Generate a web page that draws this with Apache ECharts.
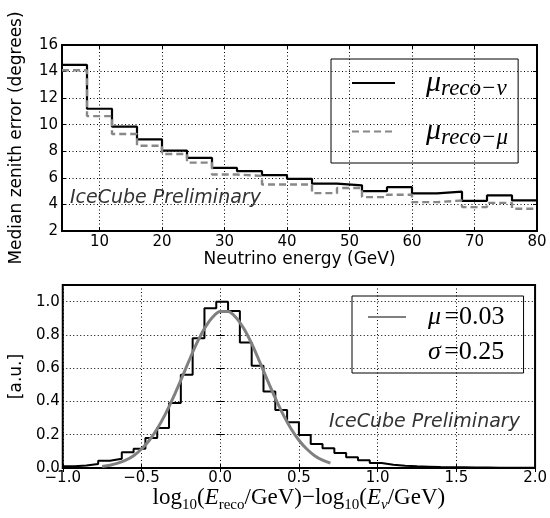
<!DOCTYPE html>
<html>
<head>
<meta charset="utf-8">
<script src="https://cdn.jsdelivr.net/npm/echarts@6/dist/echarts.min.js"></script>
<style>
  html, body { margin: 0; padding: 0; background: #fff; }
  #chart { width: 550px; height: 518px; }
</style>
</head>
<body>
<div id="chart"></div>
<script>
// top panel: median zenith error in 4 GeV energy bins
const energyEdges = [4, 8, 12, 16, 20, 24, 28, 32, 36, 40, 44, 48, 52, 56, 60, 64, 68, 72, 76, 80];
const zenithRecoNu = [14.5, 11.2, 9.85, 8.9, 8.05, 7.5, 6.75, 6.5, 6.2, 5.93, 5.57, 5.44, 5.0, 5.3, 4.83, 4.96, 4.27, 4.68, 4.3];
const zenithRecoMu = [14.1, 10.65, 9.3, 8.42, 7.8, 7.15, 6.25, 6.15, 5.5, 5.5, 4.85, 5.24, 4.55, 4.73, 4.17, 4.3, 3.8, 4.12, 3.67];
const energyTicks = [10, 20, 30, 40, 50, 60, 70, 80];

// bottom panel: energy resolution histogram (40 bins from -1 to 2)
const resEdges = [-1, -0.925, -0.85, -0.775, -0.7, -0.625, -0.55, -0.475, -0.4, -0.325,
  -0.25, -0.175, -0.1, -0.025, 0.05, 0.125, 0.2, 0.275, 0.35, 0.425,
  0.5, 0.575, 0.65, 0.725, 0.8, 0.875, 0.95, 1.025, 1.1, 1.175,
  1.25, 1.325, 1.4, 1.475, 1.55, 1.625, 1.7, 1.775, 1.85, 1.925, 2.0];
const resCounts = [0.010, 0.015, 0.024, 0.044, 0.056, 0.094, 0.115, 0.18, 0.24, 0.39,
  0.56, 0.78, 0.96, 1.0, 0.944, 0.755, 0.614, 0.46, 0.348, 0.275,
  0.198, 0.145, 0.119, 0.09, 0.064, 0.046, 0.03, 0.02, 0.014, 0.01,
  0.008, 0.006, 0.005, 0.004, 0.003, 0.003, 0.002, 0.002, 0.001, 0.001];
// gaussian fit curve
const fitX = [-0.75, -0.7, -0.65, -0.6, -0.55, -0.5, -0.45, -0.4, -0.35, -0.3,
  -0.25, -0.2, -0.15, -0.1, -0.05, 0.0, 0.05, 0.1, 0.15, 0.2,
  0.25, 0.3, 0.35, 0.4, 0.45, 0.5, 0.55, 0.6, 0.65, 0.7];
const fitY = [0.009, 0.017, 0.029, 0.047, 0.074, 0.114, 0.167, 0.236, 0.321, 0.420,
  0.528, 0.640, 0.747, 0.838, 0.905, 0.941, 0.941, 0.905, 0.838, 0.747,
  0.640, 0.528, 0.420, 0.321, 0.236, 0.167, 0.114, 0.074, 0.047, 0.029];
const resYTicks = [0, 0.2, 0.4, 0.6, 0.8, 1.0];

const SANS = 'DejaVu Sans';
const SERIF = 'Liberation Serif';

// step series: each bin value held from its left edge, last value repeated at the end
function stepData(edges, vals) {
  return edges.map((e, i) => [e, vals[Math.min(i, vals.length - 1)]]);
}

function minus(v) {
  return String(v).replace('-', '\u2212');
}

const tick = { inside: true, length: 4, lineStyle: { color: '#000', width: 1 } };
const dotted = { show: true, lineStyle: { color: '#000', width: 1, type: [1, 2.5] } };
const label = { color: '#000', fontFamily: SANS, fontSize: 15 };

function mirror(base) {
  return Object.assign({
    axisLine: { show: false },
    axisLabel: { show: false },
    splitLine: { show: false }
  }, base);
}

const chart = echarts.init(document.getElementById('chart'));

chart.setOption({
  animation: false,
  grid: [
    { left: 57, top: 45, width: 480, height: 186, show: true, borderColor: '#000', borderWidth: 2 },
    { left: 57, top: 285, width: 480, height: 183, show: true, borderColor: '#000', borderWidth: 2 }
  ],
  xAxis: [
    {
      gridIndex: 0, type: 'value', min: 4, max: 80,
      name: 'Neutrino energy (GeV)', nameLocation: 'middle', nameGap: 19,
      nameTextStyle: { color: '#000', fontFamily: SANS, fontSize: 17 },
      axisLine: { show: false },
      axisTick: Object.assign({ customValues: energyTicks }, tick),
      axisLabel: Object.assign({ customValues: energyTicks, margin: 4 }, label),
      splitLine: dotted
    },
    mirror({ gridIndex: 0, type: 'value', min: 4, max: 80, position: 'top',
      axisTick: Object.assign({ customValues: energyTicks }, tick) }),
    {
      gridIndex: 1, type: 'value', min: -1, max: 2, interval: 0.5,
      name: '{r|log}{s|10}{r|(}{i|E}{s|reco}{r|/GeV)\u2212log}{s|10}{r|(}{i|E}{si|\u03bd}{r|/GeV)}',
      nameLocation: 'middle', nameGap: 16,
      nameTextStyle: {
        color: '#000',
        rich: {
          r: { fontFamily: SERIF, fontSize: 23, color: '#000' },
          i: { fontFamily: SERIF, fontSize: 23, fontStyle: 'italic', color: '#000' },
          s: { fontFamily: SERIF, fontSize: 15, color: '#000', padding: [13, 0, 0, 0] },
          si: { fontFamily: SERIF, fontSize: 15, fontStyle: 'italic', color: '#000', padding: [13, 0, 0, 0] }
        }
      },
      axisLine: { show: false },
      axisTick: tick,
      axisLabel: Object.assign({ margin: 3, formatter: v => minus(v.toFixed(1)) }, label),
      splitLine: dotted
    },
    mirror({ gridIndex: 1, type: 'value', min: -1, max: 2, interval: 0.5, position: 'top', axisTick: tick })
  ],
  yAxis: [
    {
      gridIndex: 0, type: 'value', min: 2, max: 16, interval: 2,
      name: 'Median zenith error (degrees)', nameLocation: 'middle', nameGap: 37,
      nameTextStyle: { color: '#000', fontFamily: SANS, fontSize: 17 },
      axisLine: { show: false },
      axisTick: tick,
      axisLabel: Object.assign({ margin: 4 }, label),
      splitLine: dotted
    },
    mirror({ gridIndex: 0, type: 'value', min: 2, max: 16, interval: 2, position: 'right', axisTick: tick }),
    {
      gridIndex: 1, type: 'value', min: 0, max: 1.1,
      name: '[a.u.]', nameLocation: 'middle', nameGap: 37,
      nameTextStyle: { color: '#000', fontFamily: SANS, fontSize: 17 },
      axisLine: { show: false },
      axisTick: Object.assign({ customValues: resYTicks }, tick),
      axisLabel: Object.assign({ customValues: resYTicks, margin: 3, formatter: v => v.toFixed(1) }, label),
      splitLine: dotted
    },
    mirror({ gridIndex: 1, type: 'value', min: 0, max: 1.1, position: 'right',
      axisTick: Object.assign({ customValues: resYTicks }, tick) })
  ],
  legend: [
    {
      data: ['recoNu', 'recoMu'],
      orient: 'vertical', left: 331, top: 59,
      padding: [9, 10, 14, 20],
      itemWidth: 43, itemHeight: 30, itemGap: 16,
      selectedMode: false,
      borderColor: '#000', borderWidth: 1,
      itemStyle: { opacity: 0 },
      formatter: n => n === 'recoNu' ? '{m|\u03bc}{s|reco\u2212\u03bd}' : '{m|\u03bc}{s|reco\u2212\u03bc}',
      textStyle: {
        padding: [0, 0, 0, 26],
        rich: {
          m: { fontFamily: SERIF, fontStyle: 'italic', fontSize: 30, color: '#000' },
          s: { fontFamily: SERIF, fontStyle: 'italic', fontSize: 23, color: '#000', padding: [12, 0, 0, 0] }
        }
      }
    },
    {
      data: ['fit', 'width'],
      orient: 'vertical', left: 352, top: 296,
      padding: [8, 19, 8, 15],
      itemWidth: 38, itemHeight: 28, itemGap: 9,
      selectedMode: false,
      borderColor: '#000', borderWidth: 1,
      itemStyle: { opacity: 0 },
      formatter: n => n === 'fit' ? '{m|\u03bc} {r|=0.03}' : '{m|\u03c3} {r|=0.25}',
      textStyle: {
        padding: [0, 0, 0, 17],
        rich: {
          m: { fontFamily: SERIF, fontStyle: 'italic', fontSize: 26, color: '#000' },
          r: { fontFamily: SERIF, fontSize: 26, color: '#000' }
        }
      }
    }
  ],
  graphic: [
    {
      type: 'text', left: 70, top: 189,
      style: { text: 'IceCube Preliminary', font: 'italic 19px "DejaVu Sans"', fill: '#333' }
    },
    {
      type: 'text', left: 329, top: 413,
      style: { text: 'IceCube Preliminary', font: 'italic 19px "DejaVu Sans"', fill: '#333' }
    }
  ],
  series: [
    {
      name: 'recoNu', type: 'line', xAxisIndex: 0, yAxisIndex: 0,
      step: 'end', symbol: 'none', color: '#000',
      lineStyle: { color: '#000', width: 2.2 },
      data: stepData(energyEdges, zenithRecoNu)
    },
    {
      name: 'recoMu', type: 'line', xAxisIndex: 0, yAxisIndex: 0,
      step: 'end', symbol: 'none', color: '#888',
      lineStyle: { color: '#888', width: 2.4, type: [7, 4] },
      data: stepData(energyEdges, zenithRecoMu)
    },
    {
      name: 'hist', type: 'line', xAxisIndex: 2, yAxisIndex: 2,
      step: 'end', symbol: 'none', color: '#000',
      lineStyle: { color: '#000', width: 2 },
      data: stepData(resEdges, resCounts)
    },
    {
      name: 'fit', type: 'line', xAxisIndex: 2, yAxisIndex: 2,
      symbol: 'none', smooth: 0.3, color: '#808080', z: 3,
      lineStyle: { color: '#808080', width: 3 },
      data: fitX.map((x, i) => [x, fitY[i]])
    },
    {
      name: 'width', type: 'line', xAxisIndex: 2, yAxisIndex: 2,
      symbol: 'none', color: 'rgba(0,0,0,0)',
      lineStyle: { color: 'rgba(0,0,0,0)', width: 0 },
      data: []
    }
  ]
});
</script>
</body>
</html>
